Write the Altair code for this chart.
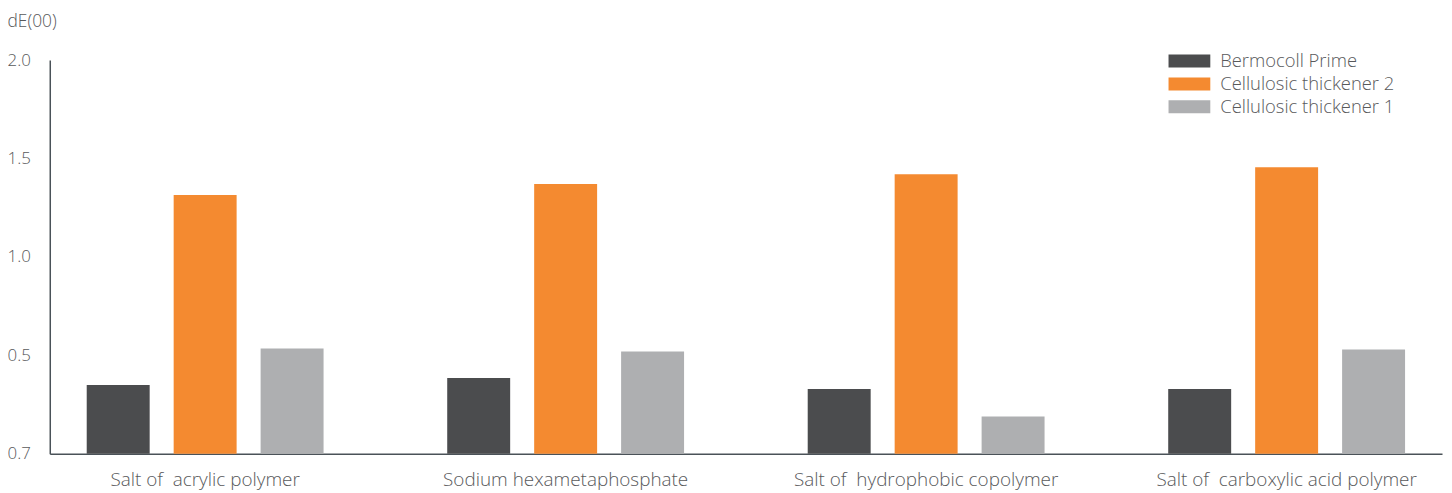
import altair as alt
import pandas as pd

categories = ["Salt of\u00a0 acrylic polymer", "Sodium hexametaphosphate",
              "Salt of\u00a0 hydrophobic copolymer", "Salt of\u00a0 carboxylic acid polymer"]
series = ["Bermocoll Prime", "Cellulosic thickener 2", "Cellulosic thickener 1"]
bermocoll = [0.35, 0.385, 0.33, 0.33]
thickener2 = [1.315, 1.37, 1.42, 1.455]
thickener1 = [0.535, 0.52, 0.19, 0.53]
colors = ["#4b4c4e", "#f48a30", "#aeafb1"]
y_ticks = [0, 0.5, 1.0, 1.5, 2.0]

rows = []
for s, vals in zip(series, [bermocoll, thickener2, thickener1]):
    for c, v in zip(categories, vals):
        rows.append({"category": c, "series": s, "value": v})
df = pd.DataFrame(rows)

font = "Open Sans"
txt = "#58595b"
axis_col = "#4a5258"
fw = 300

chart = alt.Chart(df).mark_bar().encode(
    x=alt.X("category:N", sort=categories,
            scale=alt.Scale(paddingInner=0.343, paddingOuter=0.1025),
            axis=alt.Axis(title=None, labelAngle=0, ticks=False, tickSize=0, labelLimit=0,
                          labelPadding=26, labelBaseline="middle", labelFontSize=19,
                          labelColor=txt, labelFont=font, labelFontWeight=fw,
                          domainColor=axis_col, domainWidth=1.5)),
    xOffset=alt.XOffset("series:N", sort=series,
                        scale=alt.Scale(paddingInner=0.276, paddingOuter=0)),
    y=alt.Y("value:Q", scale=alt.Scale(domain=[0, 2], nice=False),
            axis=alt.Axis(title="dE(00)", values=y_ticks, grid=False, ticks=False, tickSize=0,
                          labelExpr="datum.value == 0 ? '0.7' : format(datum.value, '.1f')",
                          labelAlign="left", labelBaseline="middle", labelPadding=43,
                          labelFontSize=17, labelColor=txt, labelFont=font, labelFontWeight=fw,
                          domainColor=axis_col, domainWidth=1.5,
                          titleAngle=0, titleAlign="left", titleBaseline="middle",
                          titleX=-43, titleY=-39, titleFontSize=17.5, titleFontWeight=fw,
                          titleColor=txt, titleFont=font)),
    color=alt.Color("series:N", sort=series,
                    scale=alt.Scale(domain=series, range=colors),
                    legend=alt.Legend(title=None, orient="none", legendX=1136, legendY=-9,
                                      symbolType="M-2.1,-0.65H2.1V0.65H-2.1Z", symbolSize=400,
                                      symbolStrokeWidth=0, symbolOpacity=1,
                                      labelFontSize=18.5, labelColor=txt, labelFont=font,
                                      labelFontWeight=fw, labelLimit=0,
                                      labelOffset=21, rowPadding=3)),
).properties(
    width=1400, height=396,
    autosize=alt.AutoSizeParams(type="none"),
    padding={"left": 42, "top": 51, "right": 2, "bottom": 38},
).configure_view(stroke=None)

chart.save("out.html", embed_options={"renderer": "svg", "actions": False})
